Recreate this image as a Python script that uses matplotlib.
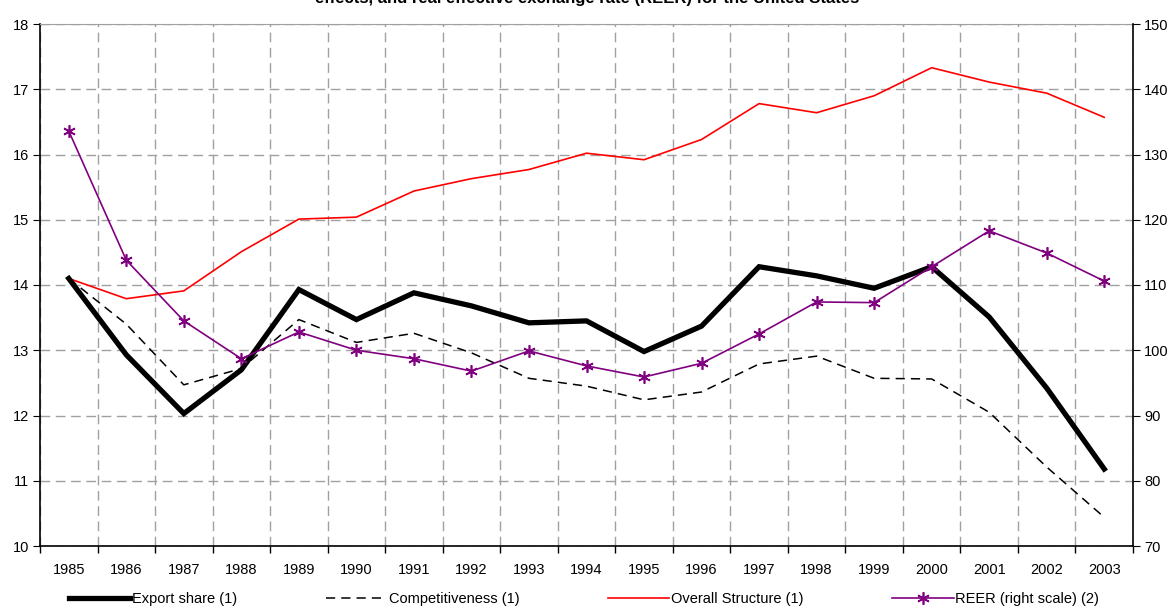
import matplotlib
matplotlib.use("Agg")
import matplotlib.pyplot as plt
from matplotlib.lines import Line2D
from matplotlib.ticker import FixedLocator

plt.rcParams['font.family'] = ['Liberation Sans', 'DejaVu Sans']

years = [str(y) for y in range(1985, 2004)]
export_share = [14.1, 12.93, 12.03, 12.7, 13.93, 13.47, 13.88, 13.68, 13.42, 13.45,
                12.98, 13.37, 14.28, 14.14, 13.95, 14.28, 13.51, 12.42, 11.18]
competitiveness = [14.1, 13.4, 12.47, 12.72, 13.47, 13.12, 13.26, 12.96, 12.57, 12.45,
                   12.24, 12.36, 12.79, 12.91, 12.57, 12.56, 12.05, 11.21, 10.44]
overall_structure = [14.1, 13.79, 13.91, 14.51, 15.01, 15.04, 15.44, 15.63, 15.77, 16.02,
                     15.92, 16.23, 16.78, 16.64, 16.9, 17.33, 17.11, 16.94, 16.57]
reer = [133.6, 113.8, 104.5, 98.7, 102.8, 100.0, 98.7, 96.8, 99.9, 97.6,
        95.9, 98.0, 102.5, 107.4, 107.3, 112.8, 118.3, 114.9, 110.6]

labels = ["Export share (1)", "Competitiveness (1)", "Overall Structure (1)", "REER (right scale) (2)"]
title = "effects, and real effective exchange rate (REER) for the United States"

fig = plt.figure(figsize=(11.75, 6.09), dpi=100)
ax = fig.add_axes([40/1175, 1-546/609, (1133-40)/1175, (546-24)/609])
ax2 = ax.twinx()

x = list(range(len(years)))
star = (6, 2, 0)
ax.plot(x, competitiveness, color='black', lw=1.1, ls=(0, (6, 4)), zorder=3)
ax.plot(x, overall_structure, color='#ff0000', lw=1.2, zorder=3)
ax.plot(x, export_share, color='black', lw=3.8, zorder=4, solid_joinstyle='miter')
ax2.plot(x, reer, color='#800080', lw=1.2, marker=star, ms=9, mew=1.2, zorder=5)

ax.set_xlim(-0.5, len(years) - 0.5)
ax.set_ylim(10, 18)
ax2.set_ylim(70, 150)
ax.set_yticks(range(10, 19))
ax2.set_yticks(range(70, 151, 10))
ax.set_xticks(x)
ax.set_xticklabels(years)
ax.xaxis.set_minor_locator(FixedLocator([i - 0.5 for i in range(len(years) + 1)]))
ax.tick_params(axis='x', which='major', length=0, pad=12, labelsize=10.5)
ax.tick_params(axis='x', which='minor', length=5, direction='out', width=1)
ax.tick_params(axis='y', length=5, direction='out', labelsize=10.5, pad=3)
ax2.tick_params(axis='y', length=5, direction='out', labelsize=10.5, pad=3)

ax.grid(True, axis='y', which='major', color='#a0a0a0', ls=(0, (7, 4)), lw=1)
ax.grid(True, axis='x', which='minor', color='#a0a0a0', ls=(0, (7, 4)), lw=1)
ax.set_axisbelow(True)

for s in ['left', 'bottom']:
    ax.spines[s].set_color('black')
    ax.spines[s].set_linewidth(1.2)
ax.spines['top'].set_color('#a0a0a0')
ax2.spines['top'].set_visible(False)
ax2.spines['left'].set_visible(False)
ax2.spines['bottom'].set_visible(False)
ax2.spines['right'].set_color('black')
ax2.spines['right'].set_linewidth(1.2)
ax.spines['right'].set_visible(False)

fig.text(0.5, 1 + 1/609, title, ha='center', va='center', fontsize=12, fontweight='bold')

handles = [
    Line2D([], [], color='black', lw=3.8),
    Line2D([], [], color='black', lw=1.1, ls=(0, (6, 4))),
    Line2D([], [], color='#ff0000', lw=1.2),
    Line2D([], [], color='#800080', lw=1.2, marker=star, ms=9, mew=1.2),
]
fig.legend(handles, labels, loc='lower center', bbox_to_anchor=(0.497, -0.017), ncol=4,
           frameon=False, fontsize=10.5, handlelength=4.2, handletextpad=0.1,
           columnspacing=6.1)

fig.savefig("out.png", dpi=100)
